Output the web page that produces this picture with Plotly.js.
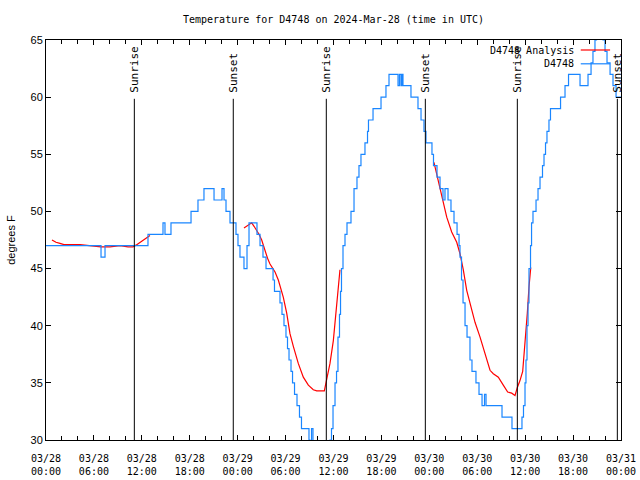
<!DOCTYPE html>
<html>
<head>
<meta charset="utf-8">
<script src="https://cdn.plot.ly/plotly-3.0.1.min.js"></script>
<style>html,body{margin:0;padding:0;background:#fff;}#chart{width:640px;height:480px;}</style>
</head>
<body>
<div id="chart"></div>
<script>
// Hours since 2024-03-28 00:00 UTC
const blueHours = [0, 6.89, 7.39, 12.77, 14.65, 14.90, 15.65, 18.16, 19.03, 19.78, 21.04, 22.04, 22.29, 22.54, 23.04, 23.79, 24.04, 24.29, 24.79, 25.17, 25.42, 26.42, 26.80, 27.17, 27.55, 28.43, 28.61, 29.30, 29.55, 29.80, 30.05, 30.24, 30.43, 30.68, 30.87, 31.12, 31.43, 31.74, 31.99, 32.93, 33.06, 33.25, 33.43, 33.81, 34.56, 35.31, 35.56, 35.75, 35.94, 36.19, 36.38, 36.56, 36.75, 36.88, 37.00, 37.19, 37.44, 37.69, 38.19, 38.57, 38.94, 39.19, 39.44, 39.94, 40.26, 40.38, 40.95, 41.95, 42.57, 42.95, 44.08, 44.26, 44.45, 44.58, 44.70, 45.70, 46.58, 46.96, 47.33, 47.58, 48.33, 48.52, 48.96, 49.34, 49.71, 49.96, 50.34, 50.71, 51.09, 51.47, 51.72, 51.84, 52.03, 52.22, 52.47, 52.72, 53.09, 53.34, 53.84, 54.22, 54.60, 54.91, 55.10, 57.10, 58.35, 59.60, 59.79, 59.98, 60.10, 60.23, 60.36, 60.48, 60.67, 60.80, 60.98, 61.36, 61.61, 61.86, 62.17, 62.36, 62.55, 62.73, 62.98, 63.17, 64.43, 64.99, 65.43, 66.87, 67.87, 68.25, 68.49, 68.74, 68.93, 69.75, 70.00, 70.25, 70.63, 71.00, 71.38, 72.0];
const blueTemps = [47, 46, 47, 48, 49, 48, 49, 50, 51, 52, 51, 52, 51, 50, 49, 48, 47, 46, 45, 47, 49, 48, 47, 46, 45, 44, 43, 42, 41, 40, 39, 38, 37, 36, 35, 34, 33, 32, 31, 30, 29, 31, 29, 28, 28, 29, 30, 31, 33, 35, 36, 39, 41, 43, 45, 47, 48, 49, 50, 52, 53, 54, 55, 56, 57, 58, 59, 60, 61, 62, 61, 62, 61, 62, 61, 60, 59, 58, 57, 56, 55, 54, 53, 52, 51, 52, 51, 50, 49, 48, 47, 46, 44, 42, 40, 39, 37, 36, 35, 34, 33, 34, 33, 32, 31, 32, 33, 35, 37, 40, 42, 45, 47, 49, 50, 51, 52, 53, 54, 55, 56, 57, 58, 59, 60, 61, 62, 61, 62, 63, 64, 65, 66, 65, 64, 63, 62, 61, 60, 60];

const redHours = [0.75, 1.25, 1.75, 2.25, 4.26, 5.51, 6.89, 8.01, 9.27, 10.27, 10.89, 11.27, 11.77, 12.27, 12.77, 13.02, 18, 24.79, 25.29, 25.76, 26.05, 26.38, 26.67, 27.01, 27.42, 27.74, 28.05, 28.68, 29.09, 29.43, 29.71, 30.14, 30.55, 30.97, 31.59, 32.22, 32.85, 33.47, 33.90, 34.85, 35.15, 35.56, 35.98, 36.31, 36.60, 36.81, 42, 48.58, 49.34, 49.75, 50.18, 50.80, 51.43, 51.84, 52.25, 52.68, 53.09, 53.72, 54.35, 54.97, 55.60, 56.01, 56.64, 57.26, 57.81, 58.31, 58.73, 59.02, 59.35, 59.69, 59.98, 60.27, 60.48, 60.70];
const redTemps = [47.5, 47.3, 47.2, 47.1, 47.1, 47.0, 46.9, 46.9, 47.0, 46.9, 46.9, 47.05, 47.3, 47.55, 47.75, 47.9, null, 48.55, 48.8, 49.0, 48.7, 48.35, 48.0, 47.5, 46.5, 45.9, 45.4, 44.7, 44.0, 43.2, 42.5, 41.1, 39.3, 38.2, 36.7, 35.5, 34.8, 34.4, 34.3, 34.3, 35.2, 36.7, 38.7, 41.1, 43.7, 44.9, null, 54.3, 52.1, 51.0, 49.5, 48.2, 47.3, 46.3, 44.9, 43.1, 41.9, 40.3, 39.0, 37.6, 36.1, 35.8, 35.5, 34.8, 34.2, 34.1, 33.9, 34.6, 35.2, 36.0, 38.2, 41.1, 43.4, 45.1];

const sunHours = [11.06, 23.45, 35.10, 47.50, 59.02, 71.54];
const sunLabels = ["Sunrise", "Sunset", "Sunrise", "Sunset", "Sunrise", "Sunset"];

const seriesNames = ["D4748 Analysis", "D4748"];
const seriesColors = ["#ff0000", "#1a86ff"];

const base = Date.UTC(2024, 2, 28);
function toDate(h) {
  return new Date(base + h * 3600000).toISOString().replace('T', ' ').slice(0, 19);
}

const mono = "DejaVu Sans Mono, monospace";
const sans = "Liberation Sans, Arial, sans-serif";

const traces = [
  {x: redHours.map(toDate), y: redTemps, mode: 'lines', name: seriesNames[0],
   line: {color: seriesColors[0], width: 1.2}, connectgaps: false, showlegend: false},
  {x: blueHours.map(toDate), y: blueTemps, mode: 'lines', name: seriesNames[1],
   line: {color: seriesColors[1], width: 1.2, shape: 'hv'}, showlegend: false},
  // empty trace that carries the second (time-of-day) tick label row
  {x: [], y: [], xaxis: 'x2', yaxis: 'y', mode: 'lines', showlegend: false, hoverinfo: 'skip'}
];

const shapes = sunHours.map(h => ({
  type: 'line', xref: 'x', yref: 'paper', x0: toDate(h), x1: toDate(h), y0: 0, y1: 0.853,
  line: {color: '#000', width: 1}
}));
const annotations = sunHours.map((h, i) => ({
  x: toDate(h), xref: 'x', yref: 'paper', y: 0.864, yanchor: 'bottom', xanchor: 'center',
  text: sunLabels[i], textangle: -90, showarrow: false,
  font: {family: mono, size: 11, color: '#000'}
}));

// legend drawn gnuplot-style (text then sample line)
const legY = [0.975, 0.9405];
seriesNames.forEach((n, i) => {
  annotations.push({x: 0.921, y: legY[i], xref: 'paper', yref: 'paper', xanchor: 'right', yanchor: 'middle',
    text: n, showarrow: false, font: {family: mono, size: 10, color: '#000'}});
  shapes.push({type: 'line', xref: 'paper', yref: 'paper', x0: 0.930, x1: 0.981, y0: legY[i], y1: legY[i],
    line: {color: seriesColors[i], width: 1.2}});
});

const xRange = [toDate(0), toDate(72)];
const layout = {
  width: 640, height: 480,
  margin: {l: 46, r: 19, t: 40, b: 40},
  paper_bgcolor: '#fff', plot_bgcolor: '#fff',
  title: {text: 'Temperature for D4748 on 2024-Mar-28 (time in UTC)', x: 0.5, xref: 'paper', y: 0.96, yanchor: 'middle',
          font: {family: mono, size: 10, color: '#000'}},
  xaxis: {
    type: 'date', range: xRange,
    tick0: toDate(0), dtick: 6 * 3600000, tickformat: '%m/%d',
    ticks: 'inside', ticklen: 5, tickcolor: '#000', showline: true, linecolor: '#000', linewidth: 1, mirror: 'ticks',
    showgrid: false, zeroline: false, ticklabelstandoff: 9,
    minor: {dtick: 2 * 3600000, ticks: 'inside', ticklen: 4, tickcolor: '#000', showgrid: false},
    tickfont: {family: mono, size: 10, color: '#000'}
  },
  xaxis2: {
    type: 'date', range: xRange, overlaying: 'x', anchor: 'y', side: 'bottom',
    tick0: toDate(0), dtick: 6 * 3600000, tickformat: '%H:%M',
    ticks: '', showline: false, showgrid: false, zeroline: false, ticklabelstandoff: 24,
    tickfont: {family: mono, size: 10, color: '#000'}
  },
  yaxis: {
    range: [30, 65], dtick: 5, ticks: 'inside', ticklen: 5, tickcolor: '#000',
    showline: true, linecolor: '#000', linewidth: 1, mirror: 'ticks', showgrid: false, zeroline: false,
    tickfont: {family: sans, size: 11, color: '#000'},
    title: {text: 'degrees F', font: {family: sans, size: 11, color: '#000'}, standoff: 12}
  },
  shapes: shapes,
  annotations: annotations,
  showlegend: false
};

Plotly.newPlot('chart', traces, layout, {staticPlot: true, displayModeBar: false});
</script>
</body>
</html>
